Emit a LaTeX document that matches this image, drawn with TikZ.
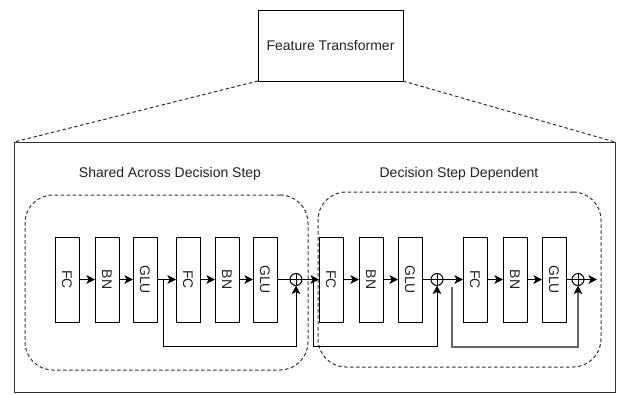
\documentclass[tikz,border=0pt]{standalone}
\usepackage{fontspec}
\setmainfont{Liberation Sans}
\usepackage{graphicx}
\usetikzlibrary{arrows.meta}
\definecolor{txt}{HTML}{222222}
\definecolor{dgray}{HTML}{333333}
\tikzset{
  blk/.style={draw=black, line width=1pt, minimum width=24pt, minimum height=85pt, inner sep=0pt, outer sep=0pt, text=txt},
  sum/.style={draw=black, line width=1pt, circle, minimum size=12pt, inner sep=0pt, outer sep=0pt,
    path picture={\draw[line width=1pt] (path picture bounding box.north) -- (path picture bounding box.south)
      (path picture bounding box.west) -- (path picture bounding box.east);}},
  flow/.style={line width=1pt, -{Stealth[length=8.5pt,width=8.5pt,inset=2pt,color=black]}},
  plain/.style={line width=1pt},
  dashln/.style={draw=dgray, line width=1pt, dash pattern=on 3.5pt off 2.5pt},
  grp/.style={dashln, rounded corners=28pt, inner sep=0pt, outer sep=0pt, anchor=north west},
  lbl/.style={text=txt, inner sep=0pt},
}
\begin{document}
\begin{tikzpicture}[x=1pt,y=-1pt, font=\fontsize{14}{16}\selectfont]
\useasboundingbox (0,0) rectangle (618,394);
% top box and big box
\node[draw=black, line width=1pt, minimum width=145pt, minimum height=71pt, anchor=north west, inner sep=0pt, outer sep=0pt, text=txt] (ft) at (258,10) {Feature Transformer};
\node[draw=dgray, line width=1pt, minimum width=601pt, minimum height=250pt, anchor=north west, inner sep=0pt, outer sep=0pt] (big) at (14,142) {};
\draw[dashln] (ft.south west) -- (big.north west);
\draw[dashln] (ft.south east) -- (big.north east);
% groups
\node[grp, minimum width=283pt, minimum height=175pt] (shared) at (25,195) {};
\node[grp, minimum width=283pt, minimum height=175pt] (dep) at (318,192) {};
\node[lbl] (lshared) at (170,174) {Shared Across Decision Step};
\node[lbl] (ldep) at (459,174) {Decision Step Dependent};
% blocks
\node[blk] (fc1) at (67,279.5) {\rotatebox{-90}{FC}};
\node[blk] (bn1) at (107,279.5) {\rotatebox{-90}{BN}};
\node[blk] (glu1) at (145,279.5) {\rotatebox{-90}{GLU}};
\node[blk] (fc2) at (188,279.5) {\rotatebox{-90}{FC}};
\node[blk] (bn2) at (227,279.5) {\rotatebox{-90}{BN}};
\node[blk] (glu2) at (265,279.5) {\rotatebox{-90}{GLU}};
\node[sum] (s1) at (296,279.5) {};
\node[blk] (fc3) at (331,279.5) {\rotatebox{-90}{FC}};
\node[blk] (bn3) at (371,279.5) {\rotatebox{-90}{BN}};
\node[blk] (glu3) at (410,279.5) {\rotatebox{-90}{GLU}};
\node[sum] (s2) at (437,279.5) {};
\node[blk] (fc4) at (475,279.5) {\rotatebox{-90}{FC}};
\node[blk] (bn4) at (515,279.5) {\rotatebox{-90}{BN}};
\node[blk] (glu4) at (554,279.5) {\rotatebox{-90}{GLU}};
\node[sum] (s3) at (578,279.5) {};
\coordinate (out) at (597,279.5);
\coordinate (k1) at (163,279.5);
\coordinate (k2) at (313,279.5);
\coordinate (k3) at (452,287);
% main flow
\draw[flow] (fc1) -- (bn1);
\draw[flow] (bn1) -- (glu1);
\draw[flow] (glu1) -- (fc2);
\draw[flow] (fc2) -- (bn2);
\draw[flow] (bn2) -- (glu2);
\draw[plain] (glu2) -- (s1);
\draw[flow] (s1) -- (fc3);
\draw[flow] (fc3) -- (bn3);
\draw[flow] (bn3) -- (glu3);
\draw[plain] (glu3) -- (s2);
\draw[flow] (s2) -- (fc4);
\draw[flow] (fc4) -- (bn4);
\draw[flow] (bn4) -- (glu4);
\draw[plain] (glu4) -- (s3);
\draw[flow] (s3) -- (out);
% skips
\draw[flow] (k1) -- (163,346) -| (s1.south);
\draw[flow] (k2) -- (313,346) -| (s2.south);
\draw[flow, draw=black!60, line width=1.2pt] (k3) -- (452,347) -| (s3.south);
\end{tikzpicture}
\end{document}
